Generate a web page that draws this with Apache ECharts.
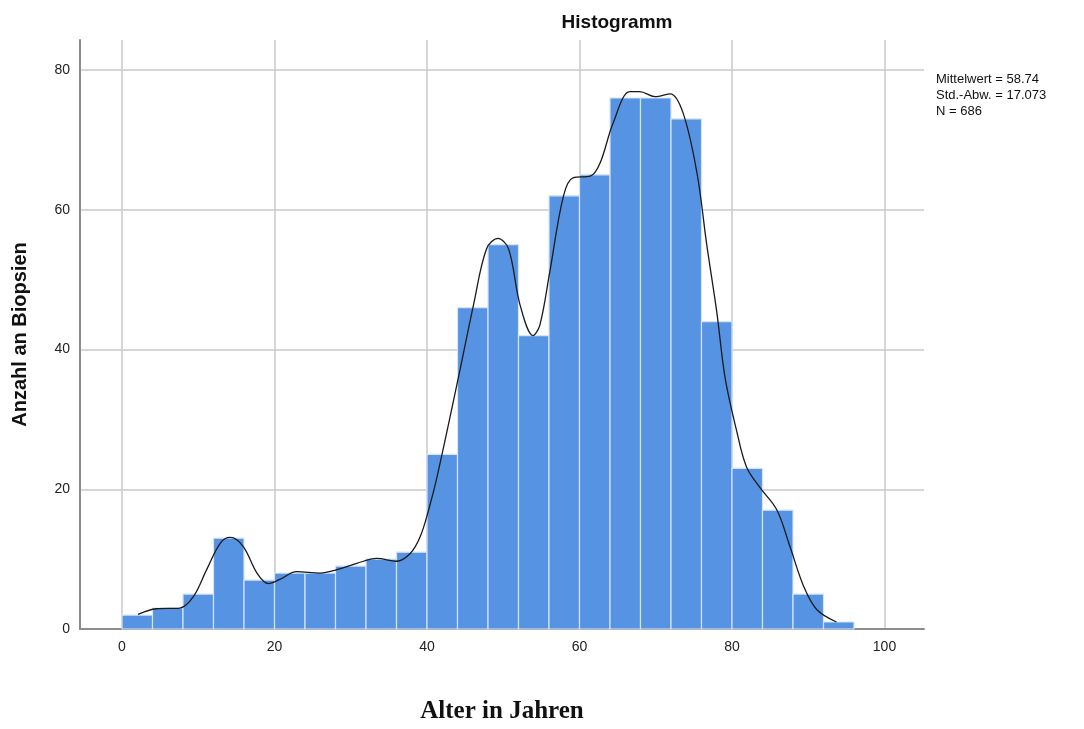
<!DOCTYPE html>
<html><head><meta charset="utf-8">
<script src="https://cdn.jsdelivr.net/npm/echarts@6/dist/echarts.min.js"></script>
<style>html,body{margin:0;padding:0;background:#fff}#c{width:1084px;height:729px}</style>
</head><body><div id="c"></div>
<script>
// Histogram bins (start age, width 4 years)
const binStarts = [0,4,8,12,16,20,24,28,32,36,40,44,48,52,56,60,64,68,72,76,80,84,88,92];
const binWidth = 4;
const counts = [2,3,5,13,7,8,8,9,10,11,25,46,55,42,62,65,76,76,73,44,23,17,5,1];
// Density curve: [age, count]
const curveX = [2.1,4.5,7.6,9.4,11.1,12.9,14.2,15.9,17.7,19.2,20.7,22.9,26,28.2,30.8,33.4,36,37.8,39.1,40.2,41.3,44.1,46.1,47.8,49.3,50.7,52.2,53.9,54.8,56.1,57.9,59.2,61.4,62.7,64.4,66.6,67.9,69.9,71.9,73.6,75.4,76.7,78,79.1,80.6,81.9,83.7,85.9,87.6,89.4,91.1,93.7];
const curveY = [2.1,2.9,3.0,4.7,8.5,12.3,13.1,11.8,8.0,6.5,7.1,8.2,8.0,8.5,9.4,10.1,9.7,10.8,13.2,17.0,21.7,35.9,46.4,54.4,55.9,54.4,46.4,42.0,43.5,51.1,62.0,64.6,64.8,66.7,72.4,76.9,76.9,76.2,76.6,73.8,65.3,54.9,45.4,35.9,28.4,23.2,20.2,17.0,11.8,6.1,2.8,1.0];
const statsLines = ['Mittelwert = 58.74','Std.-Abw. = 17.073','N = 686'];
const titleText = 'Histogramm';
const xName = 'Alter in Jahren';
const yName = 'Anzahl an Biopsien';

const barData = binStarts.map((s,i)=>[s, s+binWidth, counts[i]]);
const curveData = curveX.map((x,i)=>[x, curveY[i]]);

const chart = echarts.init(document.getElementById('c'));
chart.setOption({
  animation:false,
  backgroundColor:'#fff',
  title:{text:titleText,left:612,top:8,textAlign:'center',
    textStyle:{fontFamily:'Liberation Sans, Arial',fontSize:19,fontWeight:'bold',color:'#111'}},
  grid:{left:80,right:160,top:40,bottom:92},
  xAxis:{type:'value',min:-5.51,max:105.18,splitNumber:5,
    axisLine:{show:true,onZero:false,lineStyle:{color:'#8c8c8c',width:2}},
    axisTick:{show:false},
    axisLabel:{margin:11,fontFamily:'Liberation Sans, Arial',fontSize:14,color:'#222',
      formatter:v=> (Math.abs(v%20)<1e-6 ? String(v) : ''),showMinLabel:false,showMaxLabel:false},
    splitLine:{show:true,showMinLine:false,showMaxLine:false,lineStyle:{color:'#c8c8c8',width:1.5}},
    name:xName,nameLocation:'middle',nameGap:70,
    nameTextStyle:{fontFamily:'Liberation Serif, Times New Roman',fontSize:25,fontWeight:'bold',color:'#111'}
  },
  yAxis:{type:'value',min:0,max:84.3,splitNumber:5,
    axisLine:{show:true,onZero:false,lineStyle:{color:'#8c8c8c',width:2}},
    axisTick:{show:false},
    axisLabel:{margin:10,fontFamily:'Liberation Sans, Arial',fontSize:14,color:'#222',
      formatter:v=> (Math.abs(v%20)<1e-6 ? String(v) : ''),showMaxLabel:false},
    splitLine:{show:true,showMinLine:false,showMaxLine:false,lineStyle:{color:'#c8c8c8',width:1.5}},
    name:yName,nameLocation:'middle',nameGap:50,
    nameTextStyle:{fontFamily:'Liberation Sans, Arial',fontSize:20,fontWeight:'bold',color:'#111'}
  },
  graphic:[{type:'text',left:936,top:71,style:{text:statsLines.join('\n'),
    font:'13px "Liberation Sans", Arial',fill:'#111',lineHeight:16}}],
  series:[
    {type:'custom',data:barData,encode:{x:[0,1],y:2},z:2,
      renderItem:(params,api)=>{
        const p0=api.coord([api.value(0),0]);
        const p1=api.coord([api.value(1),api.value(2)]);
        return {type:'rect',shape:{x:p0[0],y:p1[1],width:p1[0]-p0[0],height:p0[1]-p1[1]},
          style:{fill:'#5694e3',stroke:'#d4e3f7',lineWidth:1.2}};
      }},
    {type:'line',data:curveData,smooth:0.35,showSymbol:false,z:3,
      lineStyle:{color:'#1a1a1a',width:1.3}}
  ]
});
</script></body></html>
